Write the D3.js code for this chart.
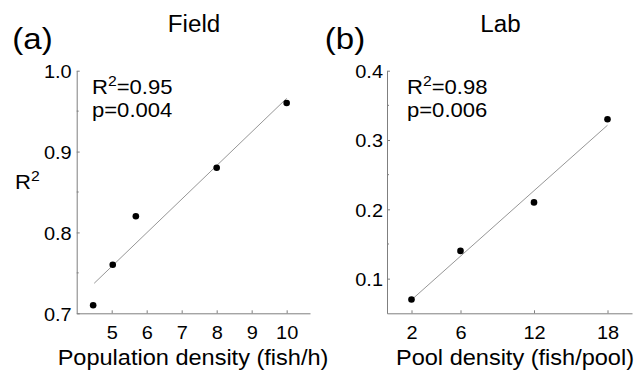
<!DOCTYPE html>
<html><head><meta charset="utf-8">
<script src="https://cdn.jsdelivr.net/npm/d3@7/dist/d3.min.js"></script>
<style>
html,body{margin:0;padding:0;background:#fff;}
svg{display:block;font-family:"Liberation Sans",Arial,Helvetica,sans-serif;}
</style></head>
<body>
<svg id="chart" width="636" height="372"></svg>
<script>
// ---- data ----
const fieldDensity = [4.47, 5.03, 5.69, 8.0, 10.0];
const fieldR2 = [0.71, 0.76, 0.82, 0.88, 0.96];
const fieldFitRange = [4.5, 10];
const fieldXTicks = [5, 6, 7, 8, 9, 10];
const fieldYTicks = [0.7, 0.8, 0.9, 1.0];
const fieldYMinor = [0.75, 0.85, 0.95];
const fieldStats = ["0.95", "p=0.004"];

const labDensity = [2, 6, 12, 18];
const labR2 = [0.07, 0.14, 0.21, 0.33];
const labFitRange = [2, 18];
const labXTicks = [2, 6, 12, 18];
const labYTicks = [0.1, 0.2, 0.3, 0.4];
const labYMinor = [0.15, 0.25, 0.35];
const labStats = ["0.98", "p=0.006"];

const svg = d3.select("#chart");
const SX = 1.05;
const AXIS_COLOR = "#7f7f7f";

function txt(parent, x, y, str, size, anchor, sx) {
  return parent.append("text")
    .attr("transform", `translate(${x},${y}) scale(${sx},1)`)
    .attr("text-anchor", anchor || "start")
    .attr("font-size", size)
    .attr("fill", "#000")
    .text(str);
}

function linFit(xs, ys) {
  const mx = d3.mean(xs), my = d3.mean(ys);
  let sxy = 0, sxx = 0;
  xs.forEach((x, i) => { sxy += (x - mx) * (ys[i] - my); sxx += (x - mx) * (x - mx); });
  const b = sxy / sxx;
  return x => my + b * (x - mx);
}

function panel(cfg) {
  const g = svg.append("g");
  const x = d3.scaleLinear().domain(cfg.xDomain).range(cfg.xRange);
  const y = d3.scaleLinear().domain(cfg.yDomain).range([313.3, 70.7]);

  // x axis
  const xa = g.append("g").attr("transform", `translate(0,${y.range()[0]})`)
    .call(d3.axisBottom(x).tickValues(cfg.xTicks).tickSizeInner(-3).tickSizeOuter(0).tickFormat(d3.format("d")));
  xa.attr("font-family", null);
  xa.select(".domain").attr("stroke", AXIS_COLOR);
  xa.selectAll(".tick line").attr("stroke", AXIS_COLOR);
  xa.selectAll(".tick text").attr("y", 25.3).attr("dy", null)
    .attr("font-size", 19).attr("fill", "#000")
    .attr("transform", `scale(${SX},1)`);

  // y axis
  const ya = g.append("g").attr("transform", `translate(${x.range()[0]},0)`)
    .call(d3.axisLeft(y).tickValues(cfg.yTicks).tickSizeInner(-3).tickSizeOuter(0).tickFormat(d3.format(".1f")));
  ya.attr("font-family", null);
  ya.select(".domain").attr("stroke", AXIS_COLOR);
  ya.selectAll(".tick line").attr("stroke", AXIS_COLOR);
  ya.selectAll(".tick text").attr("x", -cfg.yLabGap / SX).attr("dy", "0.36em")
    .attr("font-size", 19).attr("fill", "#000")
    .attr("transform", `scale(${SX},1)`);

  // minor y ticks
  g.append("g").selectAll("line").data(cfg.yMinor).join("line")
    .attr("x1", x.range()[0]).attr("x2", x.range()[0] + 2)
    .attr("y1", d => y(d)).attr("y2", d => y(d))
    .attr("stroke", AXIS_COLOR);

  // regression line
  const f = linFit(cfg.xs, cfg.ys);
  g.append("line")
    .attr("x1", x(cfg.fit[0])).attr("y1", y(f(cfg.fit[0])))
    .attr("x2", x(cfg.fit[1])).attr("y2", y(f(cfg.fit[1])))
    .attr("stroke", "#8a8a8a").attr("stroke-width", 0.9);

  // points
  g.append("g").selectAll("circle").data(cfg.xs).join("circle")
    .attr("cx", d => x(d)).attr("cy", (d, i) => y(cfg.ys[i]))
    .attr("r", 3.3).attr("fill", "#000");

  // stats annotation
  const t = txt(g, cfg.statX, 93.5, "R", 21, "start", SX);
  t.append("tspan").attr("font-size", 15).attr("dy", -8).text("2");
  t.append("tspan").attr("dy", 8).text("=" + cfg.stats[0]);
  txt(g, cfg.statX, 117, cfg.stats[1], 21, "start", SX);

  // title, panel letter, x label
  txt(g, cfg.titleX, 31.7, cfg.title, 23, "middle", SX);
  txt(g, cfg.letterX, 48.5, cfg.letter, 30, "middle", 1.1);
  txt(g, cfg.xLabelX, 364.5, cfg.xLabel, 22, "middle", 1.07);
}

panel({
  xDomain: [4, 10.667], xRange: [76.7, 310], yDomain: [0.7, 1.0],
  xTicks: fieldXTicks, yTicks: fieldYTicks, yMinor: fieldYMinor, yLabGap: 5,
  xs: fieldDensity, ys: fieldR2, fit: fieldFitRange, stats: fieldStats,
  statX: 92, title: "Field", titleX: 194, letter: "(a)", letterX: 32.5,
  xLabel: "Population density (fish/h)", xLabelX: 193
});
panel({
  xDomain: [0, 20], xRange: [387, 632], yDomain: [0.05, 0.4],
  xTicks: labXTicks, yTicks: labYTicks, yMinor: labYMinor, yLabGap: 4,
  xs: labDensity, ys: labR2, fit: labFitRange, stats: labStats,
  statX: 407, title: "Lab", titleX: 500.5, letter: "(b)", letterX: 345,
  xLabel: "Pool density (fish/pool)", xLabelX: 515
});

// y-axis label R^2
const yl = txt(svg, 15, 189, "R", 21, "start", SX);
yl.append("tspan").attr("font-size", 15).attr("dy", -8).text("2");
</script>
</body></html>
